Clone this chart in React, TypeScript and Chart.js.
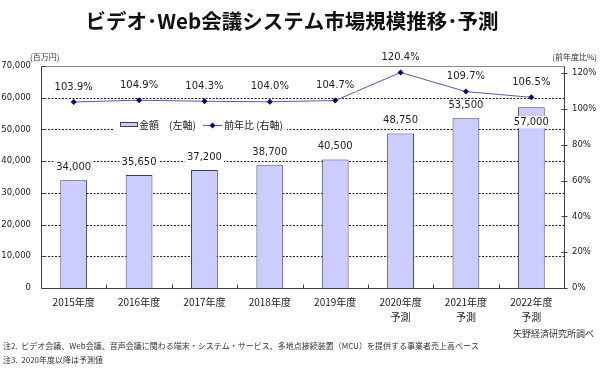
import { useEffect, useRef } from "react";
import { Chart, registerables } from "chart.js";

Chart.register(...registerables);

const categories: string[][] = [
  ["2015年度"],
  ["2016年度"],
  ["2017年度"],
  ["2018年度"],
  ["2019年度"],
  ["2020年度", "予測"],
  ["2021年度", "予測"],
  ["2022年度", "予測"],
];
const amounts = [34000, 35650, 37200, 38700, 40500, 48750, 53500, 57000];
const yoy = [103.9, 104.9, 104.3, 104.0, 104.7, 120.4, 109.7, 106.5];
const leftTicks = [0, 10000, 20000, 30000, 40000, 50000, 60000, 70000];
const rightTicks = [0, 20, 40, 60, 80, 100, 120];

const titleText = "ビデオ･Web会議システム市場規模推移･予測";
const leftUnit = "(百万円)";
const rightUnit = "(前年度比%)";
const legendBar = "金額　(左軸)";
const legendLine = "前年比 (右軸)";
const sourceText = "矢野経済研究所調べ";
const notes = [
  "注2.  ビデオ会議、Web会議、音声会議に関わる端末・システム・サービス、多地点接続装置（MCU）を提供する事業者売上高ベース",
  "注3.  2020年度以降は予測値",
];

const NUM_FONT = '"DejaVu Sans", "Noto Sans CJK JP", sans-serif';
const JP_FONT = '"Noto Sans CJK JP", "DejaVu Sans", sans-serif';
const BAR_FILL = "#ccccff";
const BAR_BORDER = "#3c3c5c";
const LINE_COLOR = "#5a5aa0";
const POINT_COLOR = "#000070";

const fmt = (v: number) => v.toLocaleString("en-US");

const decor = {
  id: "decor",
  beforeDatasetsDraw(chart: any) {
    const { ctx, chartArea } = chart;
    const y = chart.scales.y;
    const y1 = chart.scales.y1;
    const x = chart.scales.x;
    ctx.save();
    ctx.strokeStyle = "#222";
    ctx.lineWidth = 1;
    ctx.setLineDash([2, 1.5]);
    leftTicks.forEach((v) => {
      if (v === 0 || v === leftTicks[leftTicks.length - 1]) return;
      const py = Math.round(y.getPixelForValue(v)) + 0.5;
      ctx.beginPath();
      ctx.moveTo(chartArea.left, py);
      ctx.lineTo(chartArea.right, py);
      ctx.stroke();
    });
    ctx.setLineDash([]);
    ctx.strokeStyle = "#8a8a8a";
    const l = Math.round(chartArea.left) + 0.5;
    const r = Math.round(chartArea.right) + 0.5;
    const t = Math.round(chartArea.top) + 0.5;
    const b = Math.round(chartArea.bottom) + 0.5;
    ctx.beginPath();
    ctx.moveTo(l, t);
    ctx.lineTo(r, t);
    ctx.stroke();
    ctx.strokeStyle = "#404040";
    ctx.beginPath();
    ctx.moveTo(l, t);
    ctx.lineTo(l, b);
    ctx.lineTo(r, b);
    ctx.lineTo(r, t);
    ctx.stroke();
    leftTicks.forEach((v) => {
      const py = Math.round(y.getPixelForValue(v)) + 0.5;
      ctx.beginPath();
      ctx.moveTo(l, py);
      ctx.lineTo(l + 4, py);
      ctx.stroke();
    });
    rightTicks.forEach((v) => {
      const py = Math.round(y1.getPixelForValue(v)) + 0.5;
      ctx.beginPath();
      ctx.moveTo(r - 3, py);
      ctx.lineTo(r + 3, py);
      ctx.stroke();
    });
    for (let i = 1; i < categories.length; i++) {
      const px = Math.round((x.getPixelForValue(i - 1) + x.getPixelForValue(i)) / 2) + 0.5;
      ctx.beginPath();
      ctx.moveTo(px, b);
      ctx.lineTo(px, b - 4);
      ctx.stroke();
    }
    ctx.restore();
  },
  afterDatasetsDraw(chart: any) {
    const { ctx } = chart;
    ctx.save();
    const drawLabel = (text: string, cx: number, cy: number, font: string) => {
      ctx.font = font;
      const w = ctx.measureText(text).width;
      ctx.fillStyle = "#fff";
      ctx.fillRect(cx - w / 2 - 2, cy - 6, w + 4, 12);
      ctx.fillStyle = "#222";
      ctx.textAlign = "center";
      ctx.textBaseline = "middle";
      ctx.fillText(text, cx, cy);
    };
    const barMeta = chart.getDatasetMeta(1);
    const lineMeta = chart.getDatasetMeta(0);
    barMeta.data.forEach((el: any, i: number) => {
      const above = el.y - 13;
      const pt = lineMeta.data[i];
      // place inside the bar when the label would collide with the line label
      const cy = pt && Math.abs(above - (pt.y - 15)) < 16 ? el.y + 15 : above;
      drawLabel(fmt(amounts[i]), el.x, cy, `10px ${NUM_FONT}`);
    });
    lineMeta.data.forEach((el: any, i: number) => {
      drawLabel(yoy[i].toFixed(1) + "%", el.x, el.y - 15, `10px ${NUM_FONT}`);
    });
    const lx = 113, ly = 117;
    ctx.fillStyle = "#fff";
    ctx.fillRect(lx, ly, 174, 16);
    ctx.fillStyle = BAR_FILL;
    ctx.fillRect(120.5, 122.5, 17, 4);
    ctx.strokeStyle = BAR_BORDER;
    ctx.lineWidth = 1;
    ctx.strokeRect(120.5, 122.5, 17, 4);
    ctx.fillStyle = "#222";
    ctx.textAlign = "left";
    ctx.textBaseline = "middle";
    ctx.font = `10px ${JP_FONT}`;
    ctx.fillText(legendBar, 139, 125);
    ctx.strokeStyle = LINE_COLOR;
    ctx.beginPath();
    ctx.moveTo(203, 125.5);
    ctx.lineTo(222, 125.5);
    ctx.stroke();
    ctx.fillStyle = POINT_COLOR;
    ctx.beginPath();
    ctx.moveTo(212.5, 122.5);
    ctx.lineTo(215.5, 125.5);
    ctx.lineTo(212.5, 128.5);
    ctx.lineTo(209.5, 125.5);
    ctx.closePath();
    ctx.fill();
    ctx.fillStyle = "#222";
    ctx.fillText(legendLine, 224, 125);
    ctx.restore();
  },
  afterDraw(chart: any) {
    const { ctx } = chart;
    ctx.save();
    ctx.fillStyle = "#111";
    ctx.textBaseline = "middle";
    ctx.textAlign = "center";
    ctx.font = `bold 20.5px ${JP_FONT}`;
    ctx.fillText(titleText, 292, 21);
    ctx.fillStyle = "#333";
    ctx.font = `8px ${JP_FONT}`;
    ctx.textAlign = "left";
    ctx.fillText(leftUnit, 30, 57);
    ctx.textAlign = "right";
    ctx.fillText(rightUnit, 597, 57);
    ctx.font = `9px ${JP_FONT}`;
    ctx.fillText(sourceText, 594, 334);
    ctx.textAlign = "left";
    ctx.font = `8px ${JP_FONT}`;
    ctx.fillText(notes[0], 3, 346);
    ctx.fillText(notes[1], 3, 360);
    ctx.restore();
  },
};

export default function App() {
  const ref = useRef<HTMLCanvasElement | null>(null);
  useEffect(() => {
    document.body.style.margin = "0";
    const canvas = ref.current;
    if (!canvas) return;
    const chart = new Chart(canvas, {
      type: "bar",
      data: {
        labels: categories,
        datasets: [
          {
            type: "line",
            label: "前年比",
            data: yoy,
            yAxisID: "y1",
            borderColor: LINE_COLOR,
            borderWidth: 1,
            pointStyle: "rectRot",
            pointRadius: 3,
            pointBackgroundColor: POINT_COLOR,
            pointBorderColor: POINT_COLOR,
            pointBorderWidth: 0,
            order: 1,
          } as any,
          {
            type: "bar",
            label: "金額",
            data: amounts,
            yAxisID: "y",
            backgroundColor: BAR_FILL,
            borderColor: BAR_BORDER,
            borderWidth: 1,
            categoryPercentage: 1,
            barPercentage: 0.41,
            order: 2,
          },
        ],
      },
      options: {
        responsive: false,
        animation: false,
        devicePixelRatio: 1,
        layout: { padding: { top: 66, left: 0, right: 0, bottom: 0 } },
        plugins: {
          legend: { display: false },
          tooltip: { enabled: false },
          title: { display: false },
        },
        scales: {
          x: {
            grid: { display: false, drawTicks: false },
            border: { display: false },
            ticks: {
              color: "#222",
              font: { size: 10, family: JP_FONT, lineHeight: 1.5 },
              padding: 7,
              maxRotation: 0,
            },
            afterFit: (s: any) => {
              s.height = 83;
            },
          },
          y: {
            position: "left",
            min: 0,
            max: 70000,
            grid: { display: false, drawTicks: false },
            border: { display: false },
            ticks: {
              stepSize: 10000,
              color: "#222",
              font: { size: 8.5, family: NUM_FONT },
              padding: 10,
              callback: (v: any) => fmt(Number(v)),
            },
            afterFit: (s: any) => {
              s.width = 41;
            },
          },
          y1: {
            position: "right",
            min: 0,
            max: 124,
            grid: { display: false, drawTicks: false },
            border: { display: false },
            ticks: {
              stepSize: 20,
              color: "#222",
              font: { size: 8.5, family: NUM_FONT },
              padding: 8,
              callback: (v: any) => v + "%",
            },
            afterBuildTicks: (s: any) => {
              s.ticks = rightTicks.map((v) => ({ value: v }));
            },
            afterFit: (s: any) => {
              s.width = 36;
            },
          },
        },
      },
      plugins: [decor],
    });
    return () => chart.destroy();
  }, []);
  return (
    <div style={{ width: 600, height: 371, background: "#fff" }}>
      <canvas ref={ref} width={600} height={371} />
    </div>
  );
}
